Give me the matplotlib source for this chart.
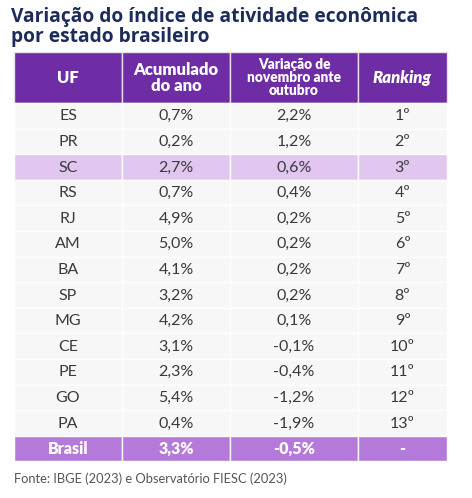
import matplotlib.pyplot as plt
from matplotlib.patches import Rectangle

title = "Variação do índice de atividade econômica\npor estado brasileiro"
source = "Fonte: IBGE (2023) e Observatório FIESC (2023)"
headers = ["UF", "Acumulado\ndo ano", "Variação de\nnovembro ante\noutubro", "Ranking"]
uf = ["ES", "PR", "SC", "RS", "RJ", "AM", "BA", "SP", "MG", "CE", "PE", "GO", "PA"]
acumulado = ["0,7%", "0,2%", "2,7%", "0,7%", "4,9%", "5,0%", "4,1%", "3,2%", "4,2%",
             "3,1%", "2,3%", "5,4%", "0,4%"]
variacao = ["2,2%", "1,2%", "0,6%", "0,4%", "0,2%", "0,2%", "0,2%", "0,2%", "0,1%",
            "-0,1%", "-0,4%", "-1,2%", "-1,9%"]
ranking = ["1º", "2º", "3º", "4º", "5º", "6º", "7º", "8º", "9º", "10º", "11º", "12º", "13º"]
total = ["Brasil", "3,3%", "-0,5%", "-"]

W, H = 472, 498
fig = plt.figure(figsize=(W / 100, H / 100), dpi=100)
ax = fig.add_axes([0, 0, 1, 1])
ax.set_xlim(0, W)
ax.set_ylim(H, 0)
ax.axis("off")

# column edges and row geometry (pixels)
cols = [14, 122, 230, 358, 447]
head_top, head_bot = 52, 103
row_h = 25.6

dark = "#6e2ca5"
light = "#b57ad9"
hilite = "#e1c6f0"
plain = "#f7f7f7"
navy = "#1d2b5b"

ax.text(11, 27, title, fontsize=13.8, fontweight="bold", color=navy,
        family="Open Sans", va="center", linespacing=1.0)

# header
for i, h in enumerate(headers):
    x0, x1 = cols[i], cols[i + 1]
    ax.add_patch(Rectangle((x0, head_top), x1 - x0, head_bot - head_top,
                           facecolor=dark, edgecolor="#e6e0ee", lw=1))
    fs = 9.8 if i == 2 else 12
    style = "italic" if h == "Ranking" else "normal"
    ax.text((x0 + x1) / 2, (head_top + head_bot) / 2, h, color="white",
            fontsize=fs, fontweight="heavy", style=style, family="Lato",
            ha="center", va="center", linespacing=1.0)

rows = list(zip(uf, acumulado, variacao, ranking))
for r, vals in enumerate(rows + [tuple(total)]):
    y0 = head_bot + r * row_h
    is_total = r == len(rows)
    if is_total:
        fc = light
    elif vals[0] == "SC":
        fc = hilite
    else:
        fc = plain
    for i, v in enumerate(vals):
        x0, x1 = cols[i], cols[i + 1]
        ax.add_patch(Rectangle((x0, y0), x1 - x0, row_h, facecolor=fc,
                               edgecolor="white", lw=1))
        ax.text((x0 + x1) / 2, y0 + row_h / 2 + 0.5, v,
                color="white" if is_total else "#3a3a3a",
                fontsize=11.5, fontweight="heavy" if is_total else "normal",
                family="Lato", ha="center", va="center")

ax.text(14, 479, source, fontsize=9.3, color="#555555", family="Lato",
        va="center")

fig.savefig("out.png", dpi=100)
